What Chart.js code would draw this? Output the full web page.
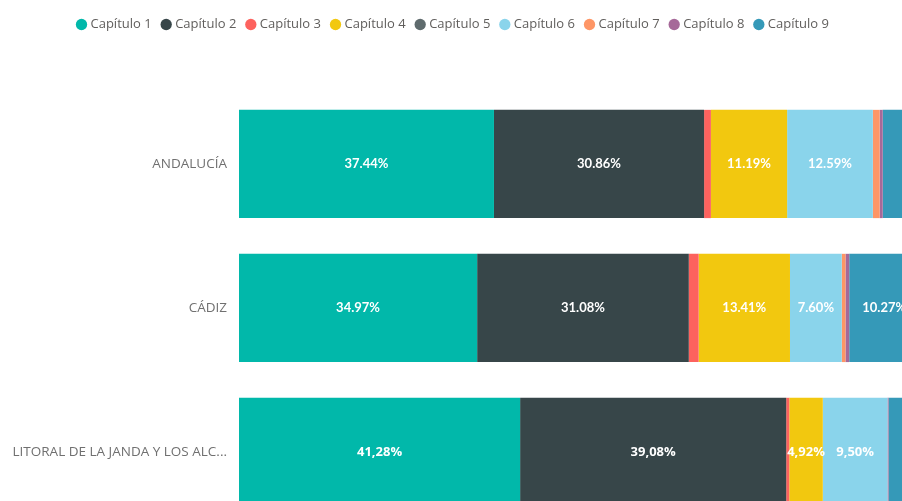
<!DOCTYPE html>
<html>
<head>
<meta charset="utf-8">
<script src="https://cdn.jsdelivr.net/npm/chart.js@4/dist/chart.umd.min.js"></script>
<style>
  html, body { margin: 0; padding: 0; background: #ffffff; overflow: hidden; }
  #chart { display: block; }
</style>
</head>
<body>
<canvas id="chart" width="902" height="544"></canvas>
<script>
// Categories (territories) and chapter series, in percent of the budget
const categories = ['ANDALUCÍA', 'CÁDIZ', 'LITORAL DE LA JANDA Y LOS ALC...'];
const seriesNames = ['Capítulo 1', 'Capítulo 2', 'Capítulo 3', 'Capítulo 4', 'Capítulo 5',
                     'Capítulo 6', 'Capítulo 7', 'Capítulo 8', 'Capítulo 9'];
const cap1 = [37.44, 34.97, 41.28];
const cap2 = [30.86, 31.08, 39.08];
const cap3 = [1.00, 1.45, 0.45];
const cap4 = [11.19, 13.41, 4.92];
const cap5 = [0, 0, 0];
const cap6 = [12.59, 7.60, 9.50];
const cap7 = [1.00, 0.55, 0];
const cap8 = [0.45, 0.55, 0.15];
const cap9 = [5.47, 10.27, 4.62];
// Decimal separator used in each row's data labels
const decimalSeparators = ['.', '.', ','];
// Visible end of the value axis (percent)
const axisMax = 97.36;

const seriesValues = [cap1, cap2, cap3, cap4, cap5, cap6, cap7, cap8, cap9];
const palette = ['#01B8AA', '#374649', '#FD625E', '#F2C80F', '#5F6B6D',
                 '#8AD4EB', '#FE9666', '#A66999', '#3599B8'];

const datasets = seriesNames.map((name, i) => ({
  label: name,
  data: seriesValues[i],
  backgroundColor: palette[i],
  borderWidth: 0,
  barPercentage: 0.752,
  categoryPercentage: 1.0
}));

// Extra space below the legend
const legendGap = {
  id: 'legendGap',
  beforeInit(chart) {
    const origFit = chart.legend.fit;
    chart.legend.fit = function () {
      origFit.bind(chart.legend)();
      this.height += 51;
    };
  }
};

// White percentage labels centred in each wide enough segment
const segmentLabels = {
  id: 'segmentLabels',
  afterDatasetsDraw(chart) {
    const { ctx, chartArea } = chart;
    ctx.save();
    ctx.beginPath();
    ctx.rect(chartArea.left, chartArea.top, chartArea.right - chartArea.left, chartArea.bottom - chartArea.top);
    ctx.clip();
    ctx.fillStyle = '#ffffff';
    ctx.textAlign = 'center';
    ctx.textBaseline = 'middle';
    chart.data.datasets.forEach((ds, di) => {
      const meta = chart.getDatasetMeta(di);
      if (meta.hidden) return;
      meta.data.forEach((bar, i) => {
        const v = ds.data[i];
        if (v < 3) return;
        const p = bar.getProps(['x', 'y', 'base'], true);
        const cx = (p.x + p.base) / 2;
        if (cx > chartArea.right - 4) return;
        ctx.font = i === 2 ? 'bold 13px "Open Sans", sans-serif' : 'bold 13px Lato, sans-serif';
        const txt = v.toFixed(2).replace('.', decimalSeparators[i]) + '%';
        ctx.fillText(txt, cx, p.y);
      });
    });
    ctx.restore();
  }
};

new Chart(document.getElementById('chart'), {
  type: 'bar',
  data: { labels: categories, datasets },
  plugins: [legendGap, segmentLabels],
  options: {
    indexAxis: 'y',
    responsive: false,
    maintainAspectRatio: false,
    devicePixelRatio: 1,
    animation: false,
    layout: { padding: { top: 6, left: 6, right: 0, bottom: 0 } },
    plugins: {
      legend: {
        position: 'top',
        align: 'center',
        labels: {
          usePointStyle: true,
          pointStyle: 'circle',
          boxWidth: 5,
          boxHeight: 8,
          padding: 12,
          color: '#605E5C',
          font: { family: '"Open Sans", "Noto Sans", sans-serif', size: 13 }
        }
      },
      tooltip: { enabled: false }
    },
    scales: {
      x: {
        stacked: true,
        min: 0,
        max: axisMax,
        display: false
      },
      y: {
        stacked: true,
        grid: { display: false, drawTicks: false },
        border: { display: false },
        ticks: {
          color: '#707070',
          padding: 12,
          font: { family: '"Open Sans", "Noto Sans", sans-serif', size: 13.5 }
        },
        afterFit(scale) { scale.width = 233; }
      }
    }
  }
});
</script>
</body>
</html>
